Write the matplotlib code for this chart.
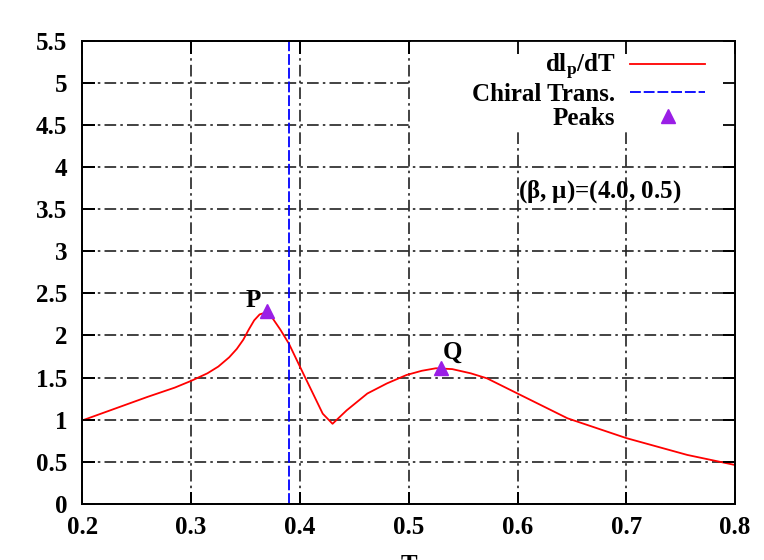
import matplotlib
matplotlib.use("Agg")
import matplotlib.pyplot as plt
from matplotlib.patches import Rectangle

plt.rcParams['font.family'] = ['Liberation Serif', 'DejaVu Serif']
plt.rcParams['font.weight'] = 'bold'
plt.rcParams['mathtext.fontset'] = 'custom'
plt.rcParams['mathtext.rm'] = 'Liberation Serif:bold'
plt.rcParams['mathtext.bf'] = 'Liberation Serif:bold'
plt.rcParams['mathtext.it'] = 'Liberation Serif:bold'

# ---- data ----
T = [0.200, 0.230, 0.260, 0.285, 0.300, 0.315, 0.325, 0.335, 0.342, 0.348,
     0.353, 0.358, 0.363, 0.368, 0.373, 0.382, 0.390, 0.400, 0.412, 0.421,
     0.430, 0.443, 0.462, 0.480, 0.498, 0.512, 0.525, 0.540, 0.557, 0.572,
     0.600, 0.646, 0.700, 0.756, 0.800]
dIp_dT = [0.99, 1.13, 1.27, 1.38, 1.46, 1.55, 1.63, 1.74, 1.84, 1.95,
          2.07, 2.18, 2.25, 2.27, 2.24, 2.07, 1.90, 1.63, 1.31, 1.07,
          0.95, 1.11, 1.31, 1.43, 1.53, 1.58, 1.61, 1.60, 1.55, 1.49,
          1.31, 1.015, 0.78, 0.58, 0.46]
chiral_T = 0.39
peak_T = [0.37, 0.53]
peak_val = [2.29, 1.61]
peak_names = ['P', 'Q']
xticks = [0.2, 0.3, 0.4, 0.5, 0.6, 0.7, 0.8]
xticklabels = ['0.2', '0.3', '0.4', '0.5', '0.6', '0.7', '0.8']
yticks = [0, 0.5, 1, 1.5, 2, 2.5, 3, 3.5, 4, 4.5, 5, 5.5]
yticklabels = ['0', '0.5', '1', '1.5', '2', '2.5', '3', '3.5', '4', '4.5', '5', '5.5']

FS = 18
POS = [0.1077, 0.1005, 0.8545, 0.8263]
fig = plt.figure(figsize=(7.64, 5.60), dpi=100)
ax = fig.add_axes(POS)

ax.plot(T, dIp_dT, color='red', lw=1.3, label=r'dl$_{\mathbf{p}}$/dT', zorder=3)
ax.axvline(chiral_T, color='blue', lw=1.3, linestyle=(0, (6, 1.6)),
           label='Chiral Trans.', zorder=3)
ax.plot(peak_T, peak_val, linestyle='none', marker='^', ms=10,
        color='#9a1ee6', label='Peaks', zorder=4)

label_off = [(-0.013, 0.12), (0.010, 0.19)]
for x, y, n, (dx, dy) in zip(peak_T, peak_val, peak_names, label_off):
    ax.text(x + dx, y + dy, n, fontsize=FS, fontweight='bold',
            ha='center', va='center', zorder=5)

ax.text(0.600, 3.71, r'($\beta$, $\mu$)=(4.0, 0.5)', fontsize=FS,
        fontweight='bold', ha='left', va='center', zorder=5)

ax.set_xlim(0.2, 0.8)
ax.set_ylim(0, 5.5)
ax.set_xticks(xticks)
ax.set_xticklabels(xticklabels)
ax.set_yticks(yticks)
ax.set_yticklabels(yticklabels)
ax.tick_params(direction='in', length=9, width=1.3, top=True, right=True,
               labelsize=FS)
ax.tick_params(axis='x', pad=9)
ax.tick_params(axis='y', pad=11)
for lab in ax.get_xticklabels() + ax.get_yticklabels():
    lab.set_fontweight('bold')

ax.grid(True, color='#222222', lw=1.2, linestyle=(0, (7, 2.5, 1.5, 2.5)),
        zorder=0.5)
ax.set_axisbelow(True)
for s in ax.spines.values():
    s.set_linewidth(1.3)
    s.set_zorder(6)

ax.set_xlabel('T', fontsize=FS, fontweight='bold', labelpad=11)

# overlay axes: opaque key box (hides grid like gnuplot's key) + tick marks
ax2 = fig.add_axes(POS)
ax2.patch.set_visible(False)
ax2.set_xlim(0.2, 0.8)
ax2.set_ylim(0, 5.5)
ax2.set_xticks(xticks)
ax2.set_yticks(yticks)
ax2.grid(False)
ax2.tick_params(direction='in', length=9, width=1.3, top=True, right=True,
                labelbottom=False, labelleft=False)
for s in ax2.spines.values():
    s.set_linewidth(1.3)
ax2.add_patch(Rectangle((0.503, 0.810), 0.497, 0.190, transform=ax2.transAxes,
                        facecolor='white', edgecolor='none', zorder=0.2))

h, l = ax.get_legend_handles_labels()
leg = ax2.legend(h, l, loc='upper right', bbox_to_anchor=(0.954, 0.976),
                 frameon=False, markerfirst=False, fontsize=FS,
                 handlelength=3.0, handletextpad=0.6, labelspacing=0.04,
                 borderpad=0, borderaxespad=0)
leg.set_zorder(7)
for t in leg.get_texts():
    t.set_fontweight('bold')

fig.savefig('out.png', dpi=100)
